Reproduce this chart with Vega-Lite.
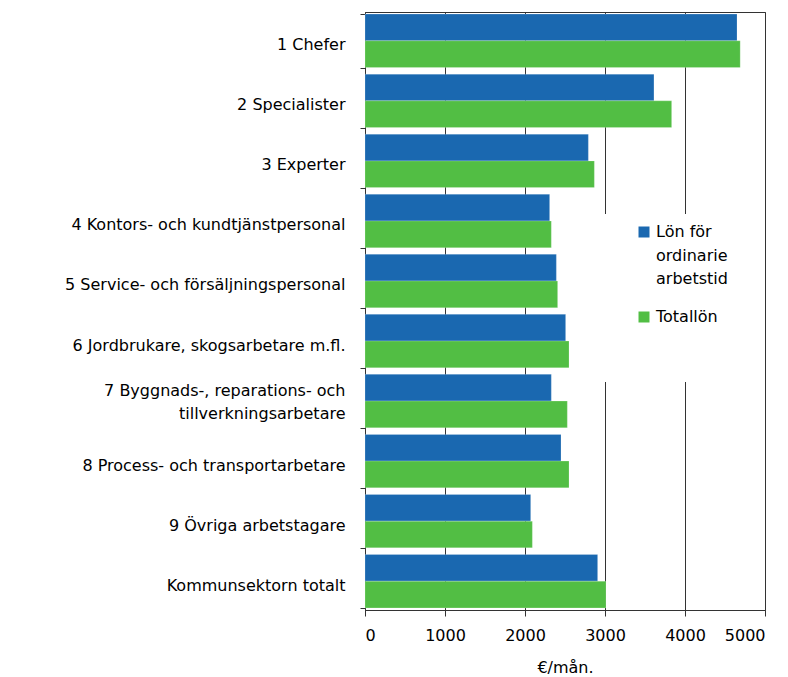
{
  "$schema": "https://vega.github.io/schema/vega-lite/v6.json",
  "autosize": {"type": "none"},
  "padding": {"left": 365, "top": 12, "right": 23, "bottom": 67},
  "width": 400,
  "height": 598,
  "background": "white",
  "config": {
    "font": "DejaVu Sans",
    "view": {"stroke": "#333333", "strokeWidth": 1},
    "style": {"guide-label": {"lineHeight": 23.5}},
    "axis": {"labelFont": "DejaVu Sans", "titleFont": "DejaVu Sans", "labelFontSize": 16, "titleFontSize": 16, "labelColor": "#000000", "titleColor": "#000000", "titleFontWeight": "normal", "domainColor": "#333333", "tickColor": "#333333"},
    "legend": {"labelFont": "DejaVu Sans", "labelFontSize": 16, "labelColor": "#000000"}
  },
  "data": {
    "values": [
      {"kategori": "1 Chefer", "serie": "Lön för ordinarie arbetstid", "euro": 4650},
      {"kategori": "1 Chefer", "serie": "Totallön", "euro": 4690},
      {"kategori": "2 Specialister", "serie": "Lön för ordinarie arbetstid", "euro": 3612},
      {"kategori": "2 Specialister", "serie": "Totallön", "euro": 3833},
      {"kategori": "3 Experter", "serie": "Lön för ordinarie arbetstid", "euro": 2792},
      {"kategori": "3 Experter", "serie": "Totallön", "euro": 2867},
      {"kategori": "4 Kontors- och kundtjänstpersonal", "serie": "Lön för ordinarie arbetstid", "euro": 2308},
      {"kategori": "4 Kontors- och kundtjänstpersonal", "serie": "Totallön", "euro": 2329},
      {"kategori": "5 Service- och försäljningspersonal", "serie": "Lön för ordinarie arbetstid", "euro": 2392},
      {"kategori": "5 Service- och försäljningspersonal", "serie": "Totallön", "euro": 2408},
      {"kategori": "6 Jordbrukare, skogsarbetare m.fl.", "serie": "Lön för ordinarie arbetstid", "euro": 2508},
      {"kategori": "6 Jordbrukare, skogsarbetare m.fl.", "serie": "Totallön", "euro": 2550},
      {"kategori": "7 Byggnads-, reparations- och tillverkningsarbetare", "serie": "Lön för ordinarie arbetstid", "euro": 2329},
      {"kategori": "7 Byggnads-, reparations- och tillverkningsarbetare", "serie": "Totallön", "euro": 2529},
      {"kategori": "8 Process- och transportarbetare", "serie": "Lön för ordinarie arbetstid", "euro": 2450},
      {"kategori": "8 Process- och transportarbetare", "serie": "Totallön", "euro": 2550},
      {"kategori": "9 Övriga arbetstagare", "serie": "Lön för ordinarie arbetstid", "euro": 2071},
      {"kategori": "9 Övriga arbetstagare", "serie": "Totallön", "euro": 2092},
      {"kategori": "Kommunsektorn totalt", "serie": "Lön för ordinarie arbetstid", "euro": 2908},
      {"kategori": "Kommunsektorn totalt", "serie": "Totallön", "euro": 3012}
    ]
  },
  "mark": {"type": "bar", "stroke": "#ffffff", "strokeOpacity": 0.4, "strokeWidth": 0.5},
  "encoding": {
    "y": {
      "field": "kategori",
      "type": "nominal",
      "sort": null,
      "scale": {"paddingInner": 0.11, "paddingOuter": 0.035},
      "axis": {
        "title": null,
        "tickBand": "extent",
        "tickSize": 5,
        "labelPadding": 15,
        "labelLimit": 400,
        "labelLineHeight": 23,
        "labelOffset": {"condition": {"test": "datum.value == '7 Byggnads-, reparations- och tillverkningsarbetare'", "value": -11}, "value": 4},
        "labelExpr": "datum.label == '7 Byggnads-, reparations- och tillverkningsarbetare' ? ['7 Byggnads-, reparations- och', 'tillverkningsarbetare'] : datum.label"
      }
    },
    "x": {
      "field": "euro",
      "type": "quantitative",
      "scale": {"domain": [0, 5000], "nice": false},
      "axis": {
        "title": "€/mån.",
        "values": [0, 1000, 2000, 3000, 4000, 5000],
        "format": "d",
        "grid": true,
        "gridColor": "#333333",
        "gridOpacity": 1,
        "tickSize": 6,
        "labelPadding": 11,
        "titlePadding": 16
      }
    },
    "yOffset": {"field": "serie", "type": "nominal", "sort": ["Lön för ordinarie arbetstid", "Totallön"], "scale": {"paddingInner": 0, "paddingOuter": 0}},
    "color": {
      "field": "serie",
      "type": "nominal",
      "sort": ["Lön för ordinarie arbetstid", "Totallön"],
      "scale": {"domain": ["Lön för ordinarie arbetstid", "Totallön"], "range": ["#1a68b0", "#52be44"]},
      "legend": {
        "title": null,
        "orient": "none",
        "legendX": 231,
        "legendY": 202,
        "padding": 10,
        "fillColor": "#ffffff",
        "symbolType": "square",
        "symbolSize": 121,
        "symbolStrokeWidth": 0,
        "symbolOffset": 30,
        "labelOffset": 4,
        "rowPadding": 22,
        "labelBaseline": "middle",
        "labelExpr": "datum.label == 'Lön för ordinarie arbetstid' ? ['Lön för', 'ordinarie\u00a0\u00a0\u00a0\u00a0\u00a0\u00a0\u00a0\u00a0\u00a0', 'arbetstid'] : ['Totallön', '\u00a0', '\u00a0']"
      }
    }
  }
}
